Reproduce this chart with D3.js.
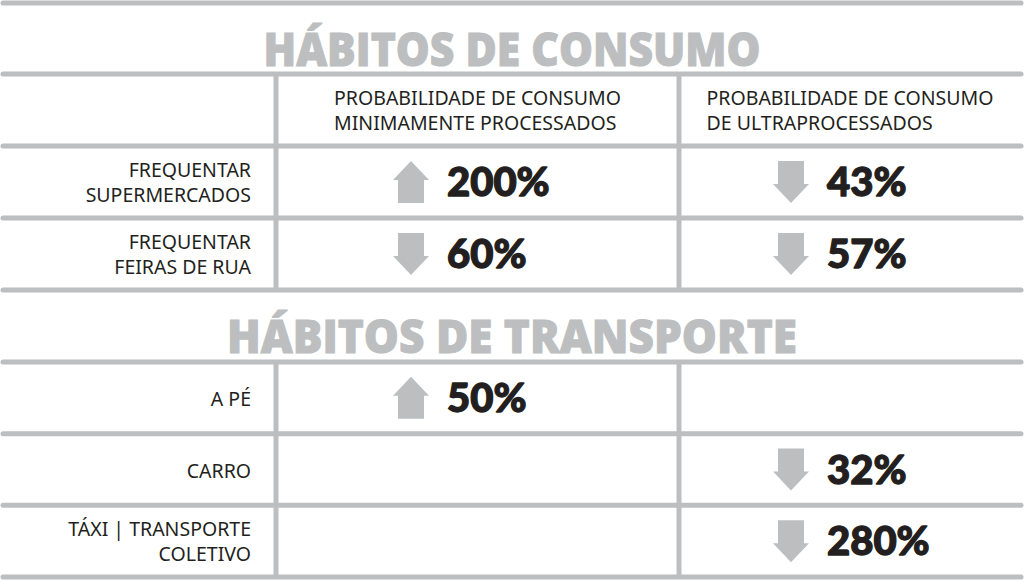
<!DOCTYPE html>
<html>
<head>
<meta charset="utf-8">
<script src="https://cdn.jsdelivr.net/npm/d3@7"></script>
<style>
	body { margin: 0; background: #ffffff; }
	svg { display: block; }
</style>
</head>
<body>
<svg id="svg1"></svg>
<script>
// section titles
section_titles = ["HÁBITOS DE CONSUMO", "HÁBITOS DE TRANSPORTE"];

// column headers (two lines each)
column_titles = [
	["PROBABILIDADE DE CONSUMO", "MINIMAMENTE PROCESSADOS"],
	["PROBABILIDADE DE CONSUMO", "DE ULTRAPROCESSADOS"]
];

// consumo block
consumo_rows = [
	["FREQUENTAR", "SUPERMERCADOS"],
	["FREQUENTAR", "FEIRAS DE RUA"]
];
consumo_minimamente = [200, 60];
consumo_minimamente_dir = ["up", "down"];
consumo_ultra = [43, 57];
consumo_ultra_dir = ["down", "down"];

// transporte block
transporte_rows = [
	["A PÉ"],
	["CARRO"],
	["TÁXI | TRANSPORTE", "COLETIVO"]
];
transporte_minimamente = [50, null, null];
transporte_minimamente_dir = ["up", null, null];
transporte_ultra = [null, 32, 280];
transporte_ultra_dir = [null, "down", "down"];

settings = {
	width: 1024,
	height: 580,
	left: 3,
	right: 1021,
	top_line: 3,
	title1_line: 74,
	consumo_top: 146,
	consumo_bottom: 290,
	transporte_top: 362,
	transporte_bottom: 577,
	col_edges: [0, 276, 679, 1021],
	label_right: 251,
	arrow_x: [411, 791],
	text_size: 19.5,
	line_gap: 25,
	gray: "#bcbec0",
	ink: "#231f20"
}

function build_cells(rows, minVals, minDir, ultraVals, ultraDir) {
	cells = [];
	rows.forEach((r, i) => {
		key = r.join(" ");
		if (minVals[i] != null) cells.push({row: key, col: 0, value: minVals[i], dir: minDir[i]});
		if (ultraVals[i] != null) cells.push({row: key, col: 1, value: ultraVals[i], dir: ultraDir[i]});
	});
	return cells;
}

function arrow_path() {
	// drawn around (0,0), pointing up; flipped for down
	return "M0,-21 L18,-2 L13,-2 L13,21 L-13,21 L-13,-2 L-18,-2 Z";
}

function draw_block(svg, rows, yTop, yBottom, cells) {
	var y = d3.scaleBand().domain(rows.map(r => r.join(" "))).range([yTop, yBottom]);
	var col = d3.scaleOrdinal().domain([0, 1]).range(settings.arrow_x);

	// row labels
	var labels = svg.append("g")
		.selectAll("text")
		.data(rows)
		.enter().append("text")
		.attr("text-anchor", "end")
		.attr("font-family", "'Noto Sans', 'Open Sans', sans-serif")
		.attr("font-size", settings.text_size)
		.attr("fill", settings.ink)
		.attr("transform", d => "translate(" + settings.label_right + "," + (y(d.join(" ")) + y.bandwidth() / 2) + ")");

	labels.selectAll("tspan")
		.data(d => d.map((t, i) => ({t: t, i: i, n: d.length})))
		.enter().append("tspan")
		.attr("x", 0)
		.attr("y", d => d.n == 1 ? 8 : (-5.5 + d.i * settings.line_gap))
		.text(d => d.t);

	// arrows
	svg.append("g")
		.selectAll("path")
		.data(cells)
		.enter().append("path")
		.attr("d", arrow_path())
		.attr("fill", settings.gray)
		.attr("transform", d => "translate(" + col(d.col) + "," + (y(d.row) + y.bandwidth() / 2) + ")" + (d.dir == "down" ? " scale(1,-1)" : ""));

	// values
	svg.append("g")
		.selectAll("text")
		.data(cells)
		.enter().append("text")
		.attr("x", d => col(d.col) + 36)
		.attr("y", d => y(d.row) + y.bandwidth() / 2 + 14)
		.attr("font-family", "Lato, 'Noto Sans', sans-serif")
		.attr("font-weight", 900)
		.attr("font-size", 40)
		.attr("fill", settings.ink)
		.attr("stroke", settings.ink)
		.attr("stroke-width", 1.3)
		.attr("stroke-linejoin", "round")
		.text(d => d.value + "%");

	return y;
}

function show_table() {
	console.log("show_table:Begin")

	svg = d3.select("#svg1")
		.attr("width", settings.width)
		.attr("height", settings.height);

	svg.append("rect")
		.attr("width", settings.width)
		.attr("height", settings.height)
		.attr("fill", "#ffffff");

	var grid = svg.append("g");
	var content = svg.append("g");

	var yC = draw_block(content, consumo_rows, settings.consumo_top, settings.consumo_bottom,
		build_cells(consumo_rows, consumo_minimamente, consumo_minimamente_dir, consumo_ultra, consumo_ultra_dir));
	var yT = draw_block(content, transporte_rows, settings.transporte_top, settings.transporte_bottom,
		build_cells(transporte_rows, transporte_minimamente, transporte_minimamente_dir, transporte_ultra, transporte_ultra_dir));

	// horizontal rules
	h_lines = [settings.top_line, settings.title1_line];
	yC.domain().forEach(k => h_lines.push(yC(k)));
	h_lines.push(settings.consumo_bottom);
	yT.domain().forEach(k => h_lines.push(yT(k)));
	h_lines.push(settings.transporte_bottom);

	grid.selectAll("line.h")
		.data(h_lines)
		.enter().append("line")
		.attr("class", "h")
		.attr("x1", settings.left).attr("x2", settings.right)
		.attr("y1", d => d).attr("y2", d => d)
		.attr("stroke", settings.gray)
		.attr("stroke-width", 5)
		.attr("stroke-linecap", "round");

	// vertical rules
	v_spans = [[settings.title1_line, settings.consumo_bottom], [settings.transporte_top, settings.transporte_bottom]];
	v_lines = [];
	v_spans.forEach(s => {
		[settings.col_edges[1], settings.col_edges[2]].forEach(x => v_lines.push({x: x, y1: s[0], y2: s[1]}));
	});
	grid.selectAll("line.v")
		.data(v_lines)
		.enter().append("line")
		.attr("class", "v")
		.attr("x1", d => d.x).attr("x2", d => d.x)
		.attr("y1", d => d.y1).attr("y2", d => d.y2)
		.attr("stroke", settings.gray)
		.attr("stroke-width", 5);

	// section titles
	title_pos = [{y: 66, w: 497}, {y: 353, w: 570}];
	content.selectAll("text.title")
		.data(section_titles)
		.enter().append("text")
		.attr("class", "title")
		.attr("x", 512)
		.attr("y", (d, i) => title_pos[i].y)
		.attr("text-anchor", "middle")
		.attr("font-family", "'Open Sans', 'Noto Sans', sans-serif")
		.attr("font-weight", 800)
		.attr("font-size", 46)
		.attr("textLength", (d, i) => title_pos[i].w)
		.attr("lengthAdjust", "spacingAndGlyphs")
		.attr("fill", settings.gray)
		.attr("stroke", settings.gray)
		.attr("stroke-width", 1)
		.text(d => d);

	// column headers
	var headerMid = (settings.title1_line + settings.consumo_top) / 2;
	var heads = content.selectAll("text.head")
		.data(column_titles)
		.enter().append("text")
		.attr("class", "head")
		.attr("font-family", "'Noto Sans', 'Open Sans', sans-serif")
		.attr("font-size", settings.text_size)
		.attr("fill", settings.ink);

	heads.selectAll("tspan")
		.data(d => d)
		.enter().append("tspan")
		.attr("y", (d, i) => headerMid - 5 + i * settings.line_gap)
		.text(d => d);

	// left align lines inside a block centred in the column
	heads.each(function(d, i) {
		var w = 0;
		d3.select(this).selectAll("tspan").each(function() { w = Math.max(w, this.getComputedTextLength()); });
		var mid = (settings.col_edges[i + 1] + settings.col_edges[i + 2]) / 2;
		d3.select(this).selectAll("tspan").attr("x", mid - w / 2);
	});

	console.log("show_table:End")
}

show_table();
</script>
</body>
</html>
